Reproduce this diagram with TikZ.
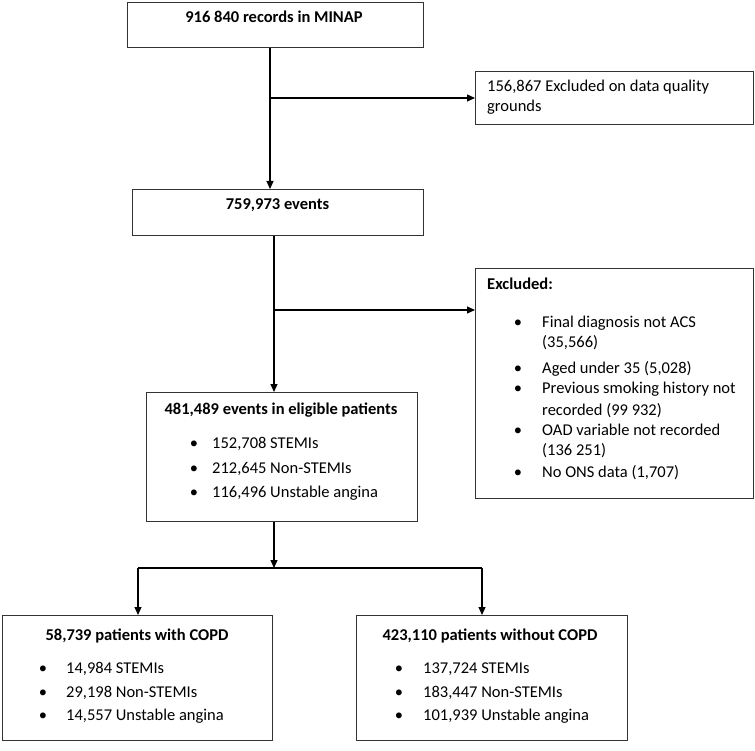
\documentclass[tikz,border=0pt]{standalone}
\usepackage{fontspec}
\setmainfont{Carlito}
\usetikzlibrary{arrows.meta}
\begin{document}
\begin{tikzpicture}[x=1pt,y=-1pt,
 box/.style={draw=black!80, line width=1.2pt, inner sep=0pt, anchor=north west},
 arr/.style={draw=black, line width=1.2pt, -{Triangle[length=8pt,width=7pt]}},
 ln/.style={draw=black, line width=1.2pt},
 txt/.style={inner sep=0pt, anchor=base west, font=\fontsize{16.5}{20}\selectfont},
 btxt/.style={inner sep=0pt, anchor=base west, font=\fontsize{16.5}{20}\selectfont\bfseries},
 ttl/.style={inner sep=0pt, anchor=base, font=\fontsize{16.5}{20}\selectfont\bfseries},
 bul/.style={inner sep=0pt, anchor=base, font=\fontsize{16.5}{20}\selectfont}]
\useasboundingbox (0,0) rectangle (755,751);
% boxes
\node[box, minimum width=296pt, minimum height=45pt] (top) at (127,2) {};
\node[box, minimum width=278pt, minimum height=53pt] (q) at (475,71) {};
\node[box, minimum width=291pt, minimum height=46pt] (ev) at (132,189) {};
\node[box, minimum width=278pt, minimum height=230pt] (excl) at (475,268) {};
\node[box, minimum width=271pt, minimum height=129pt] (elig) at (146,392) {};
\node[box, minimum width=270pt, minimum height=125pt] (L) at (2,615) {};
\node[box, minimum width=271pt, minimum height=125pt] (R) at (356,615) {};
% helper coordinates
\coordinate (s1) at (270,0);
\coordinate (s2) at (274,0);
\coordinate (b1) at (270,98);
\coordinate (b2) at (274,310);
\coordinate (j) at (274,568);
\coordinate (jl) at (138,568);
\coordinate (jr) at (482,568);
% connectors
\draw[arr] (top.south -| s1) -- (ev.north -| s1);
\draw[arr] (b1) -- (q.west |- b1);
\draw[arr] (ev.south -| s2) -- (elig.north -| s2);
\draw[arr] (b2) -- (excl.west |- b2);
\draw[arr] (elig.south -| j) -- (j);
\draw[ln] (jl) -- (jr);
\draw[arr] (jl) -- (L.north -| jl);
\draw[arr] (jr) -- (R.north -| jr);
% texts
\node[ttl] (ttop) at (274,23) {916 840 records in MINAP};
\node[txt] (tq1) at (487,92) {156,867 Excluded on data quality};
\node[txt] (tq2) at (487,112) {grounds};
\node[ttl] (tev) at (277.5,210) {759,973 events};
\node[btxt] (tex) at (487,290) {Excluded:};
\node[bul] (xb1) at (518,327) {\textbullet};
\node[bul] (xb2) at (518,373) {\textbullet};
\node[bul] (xb3) at (518,393) {\textbullet};
\node[bul] (xb4) at (518,435) {\textbullet};
\node[bul] (xb5) at (518,477) {\textbullet};
\node[txt] (x1) at (542,327) {Final diagnosis not ACS};
\node[txt] (x2) at (542,348) {(35,566)};
\node[txt] (x3) at (542,373) {Aged under 35 (5,028)};
\node[txt] (x4) at (542,393) {Previous smoking history not};
\node[txt] (x5) at (542,415) {recorded (99 932)};
\node[txt] (x6) at (542,435) {OAD variable not recorded};
\node[txt] (x7) at (542,455) {(136 251)};
\node[txt] (x8) at (542,477) {No ONS data (1,707)};
\node[ttl] (tel) at (281,414) {481,489 events in eligible patients};
\node[bul] (eb1) at (194,448) {\textbullet};
\node[bul] (eb2) at (194,473) {\textbullet};
\node[bul] (eb3) at (194,497) {\textbullet};
\node[txt] (e1) at (212,448) {152,708 STEMIs};
\node[txt] (e2) at (212,473) {212,645 Non-STEMIs};
\node[txt] (e3) at (212,497) {116,496 Unstable angina};
\node[ttl] (tL) at (137,640) {58,739 patients with COPD};
\node[bul] (lb1) at (43,673) {\textbullet};
\node[bul] (lb2) at (43,697) {\textbullet};
\node[bul] (lb3) at (43,720) {\textbullet};
\node[txt] (l1) at (66,673) {14,984 STEMIs};
\node[txt] (l2) at (66,697) {29,198 Non-STEMIs};
\node[txt] (l3) at (66,720) {14,557 Unstable angina};
\node[ttl] (tR) at (490,640) {423,110 patients without COPD};
\node[bul] (rb1) at (399,673) {\textbullet};
\node[bul] (rb2) at (399,697) {\textbullet};
\node[bul] (rb3) at (399,720) {\textbullet};
\node[txt] (r1) at (423,673) {137,724 STEMIs};
\node[txt] (r2) at (423,697) {183,447 Non-STEMIs};
\node[txt] (r3) at (423,720) {101,939 Unstable angina};
\end{tikzpicture}
\end{document}
